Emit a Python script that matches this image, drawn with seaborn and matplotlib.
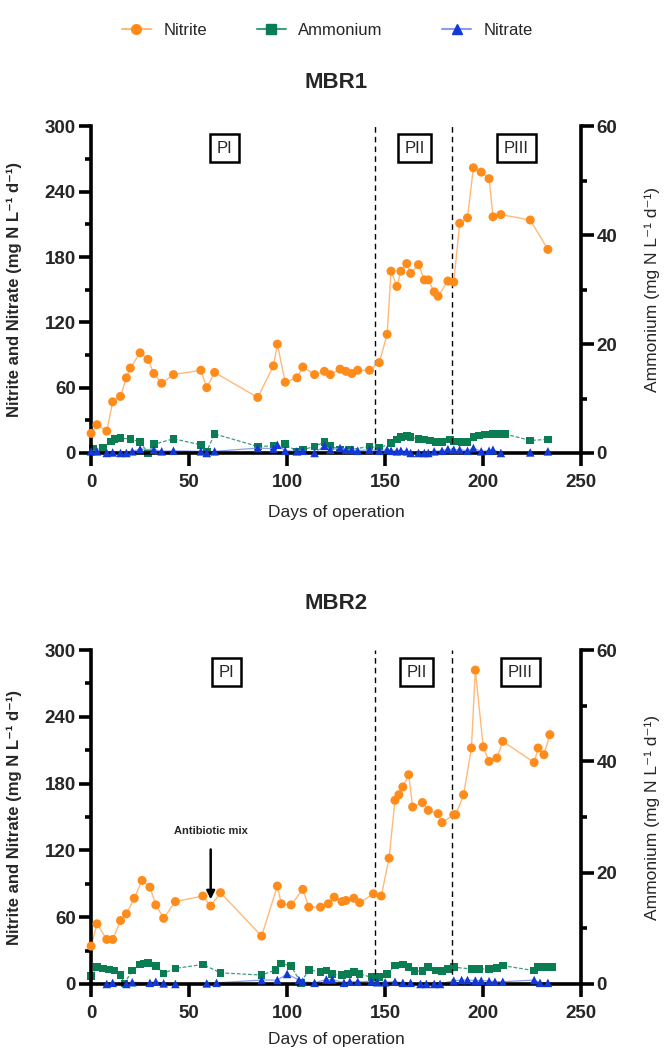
import matplotlib
matplotlib.use("Agg")
import matplotlib.pyplot as plt
from matplotlib.lines import Line2D
import seaborn as sns
import pandas as pd

# ---------------- data ----------------
mbr1_nitrite_days = [0, 3, 8, 11, 15, 18, 20, 25, 29, 32, 36, 42, 56, 59, 63, 85, 93, 95, 99, 105,
                     108, 114, 119, 122, 127, 130, 133, 136, 142, 147, 151, 153, 156, 158, 161, 163, 167, 170, 172, 175,
                     177, 182, 185, 188, 192, 195, 199, 203, 205, 209, 224, 233]
mbr1_nitrite = [18, 26, 20, 47, 52, 69, 78, 92, 86, 73, 64, 72, 76, 60, 74, 51, 80, 100, 65, 69,
                79, 72, 75, 72, 77, 75, 73, 76, 76, 83, 109, 167, 153, 167, 174, 165, 173, 159, 159, 148,
                144, 158, 157, 211, 216, 262, 258, 252, 217, 219, 214, 187]

mbr1_ammonium_days = [1, 6, 10, 12, 15, 20, 25, 29, 32, 42, 56, 59, 63, 85, 93, 99, 105, 108, 114, 119,
                      122, 127, 132, 142, 147, 153, 156, 158, 161, 163, 167, 170, 173, 176, 179, 183, 185, 189, 192, 195,
                      198, 201, 205, 208, 211, 224, 233]
mbr1_ammonium = [0.7, 0.9, 2.1, 2.6, 2.7, 2.6, 2.0, 0.0, 1.6, 2.6, 1.5, 0.3, 3.5, 1.2, 1.3, 1.6, 0.3, 0.6, 1.2, 2.0,
                 1.3, 0.6, 0.6, 1.2, 0.9, 1.8, 2.5, 2.9, 3.1, 2.9, 2.6, 2.5, 2.3, 2.0, 2.0, 2.5, 2.1, 2.0, 2.0, 2.9,
                 3.2, 3.4, 3.5, 3.5, 3.5, 2.3, 2.5]

mbr1_nitrate_days = [0, 3, 8, 11, 15, 18, 21, 25, 32, 36, 42, 56, 59, 63, 85, 93, 95, 99, 105, 108,
                     114, 119, 122, 127, 130, 133, 136, 142, 147, 151, 153, 156, 158, 161, 163, 167, 170, 172, 175, 179,
                     182, 185, 188, 192, 195, 199, 203, 205, 209, 224, 233]
mbr1_nitrate = [1.5, 1.5, 0, 0.5, 0, 0, 1.5, 3.5, 3, 1.5, 2, 1.5, 0, 1.5, 4.5, 4, 7.5, 2, 1.5, 2,
                0, 6.5, 3, 4.5, 3, 3, 2, 3, 2, 3, 2, 1.5, 2, 1.5, 0, 0, 0, 0, 1.5, 2,
                3.5, 3, 3, 2, 4.5, 1.5, 2, 3, 0, 0.5, 1.5]

mbr2_nitrite_days = [0, 3, 8, 11, 15, 18, 22, 26, 30, 33, 37, 43, 57, 61, 66, 87, 95, 97, 102, 108,
                     111, 117, 121, 124, 128, 130, 134, 137, 144, 148, 152, 155, 157, 159, 162, 164, 169, 172, 177, 179,
                     185, 186, 190, 194, 196, 200, 203, 207, 210, 226, 228, 231, 234]
mbr2_nitrite = [34, 54, 40, 40, 57, 63, 77, 93, 87, 71, 59, 74, 79, 70, 82, 43, 88, 72, 71, 85,
                69, 69, 72, 78, 74, 75, 77, 73, 81, 79, 113, 165, 170, 177, 188, 159, 163, 156, 153, 145,
                152, 152, 170, 212, 282, 213, 200, 203, 218, 199, 212, 206, 224]

mbr2_ammonium_days = [0, 3, 6, 9, 12, 15, 17, 21, 25, 27, 29, 33, 37, 43, 57, 66, 87, 94, 97, 102,
                      107, 111, 117, 120, 123, 128, 131, 134, 137, 143, 147, 151, 155, 159, 162, 165, 169, 172, 176, 179,
                      182, 185, 194, 198, 203, 207, 210, 226, 228, 231, 235]
mbr2_ammonium = [1.4, 3.1, 2.8, 2.6, 2.4, 1.6, 0.1, 2.4, 3.5, 3.7, 3.8, 3.2, 1.9, 2.8, 3.5, 2.0, 1.6, 2.5, 3.7, 3.2,
                 0.2, 2.5, 2.2, 2.4, 1.8, 1.6, 1.8, 2.1, 1.8, 1.2, 1.2, 1.8, 3.3, 3.5, 3.0, 2.3, 2.3, 3.0, 2.4, 2.3,
                 2.7, 3.0, 2.7, 2.7, 2.7, 2.9, 3.3, 2.4, 3.1, 3.1, 3.1]

mbr2_nitrate_days = [8, 11, 18, 21, 30, 33, 37, 43, 59, 64, 87, 95, 100, 106, 108, 114, 120, 123, 129, 132,
                     136, 143, 146, 150, 155, 159, 163, 168, 171, 175, 178, 185, 189, 192, 196, 199, 203, 206, 210, 226,
                     229, 233]
mbr2_nitrate = [0, 1, 0, 1.5, 1, 2, 0.5, 0, 0.5, 1, 3.5, 3.5, 9, 3.5, 2, 1, 4, 4, 1, 2,
                2, 2.5, 1.5, 1.5, 2, 1, 1, 0, 0, 0, 0, 3, 3.5, 3.5, 3, 3, 2.5, 2, 2, 3.5,
                1, 1]

panel_titles = ["MBR1", "MBR2"]
series_names = ["Nitrite", "Ammonium", "Nitrate"]
period_labels = ["PI", "PII", "PIII"]
period_label_days = [[68, 165, 217], [69, 166, 219]]
period_bounds = [145, 184]
x_ticks = [0, 50, 100, 150, 200, 250]
left_ticks = [0, 60, 120, 180, 240, 300]
right_ticks = [0, 20, 40, 60]

# ---------------- style ----------------
sns.set_theme(style="ticks")
plt.rcParams["font.family"] = ["Liberation Sans", "DejaVu Sans"]

C_NIT = "#FF8C1A"
C_NIT_L = "#FFB978"
C_AMM = "#0B7D52"
C_AMM_L = "#3E9E7E"
C_NO3 = "#1238D6"
C_NO3_L = "#8A9CF0"
SPW = 2.6

fig = plt.figure(figsize=(6.65, 10.5), dpi=100)
axes_pos = [[0.137, 0.5686, 0.737, 0.311], [0.137, 0.0629, 0.737, 0.318]]
title_y = [0.921, 0.4257]

panels = [
    (mbr1_nitrite_days, mbr1_nitrite, mbr1_ammonium_days, mbr1_ammonium, mbr1_nitrate_days, mbr1_nitrate),
    (mbr2_nitrite_days, mbr2_nitrite, mbr2_ammonium_days, mbr2_ammonium, mbr2_nitrate_days, mbr2_nitrate),
]

for i, (nd, nv, ad, av, td, tv) in enumerate(panels):
    ax = fig.add_axes(axes_pos[i])
    axr = ax.twinx()
    ax.set_zorder(axr.get_zorder() + 1)
    ax.patch.set_visible(False)

    df_n = pd.DataFrame({"day": nd, "val": nv})
    df_a = pd.DataFrame({"day": ad, "val": av})
    df_t = pd.DataFrame({"day": td, "val": tv})

    # ammonium on right axis
    sns.lineplot(data=df_a, x="day", y="val", ax=axr, color=C_AMM_L, lw=0.9,
                 linestyle=(0, (3, 1.5)), sort=False, estimator=None)
    sns.scatterplot(data=df_a, x="day", y="val", ax=axr, marker="s", s=30, color=C_AMM,
                    edgecolor="none", clip_on=False, zorder=3)

    # nitrate and nitrite on left axis
    sns.lineplot(data=df_t, x="day", y="val", ax=ax, color=C_NO3_L, lw=0.9, sort=False, estimator=None)
    sns.scatterplot(data=df_t, x="day", y="val", ax=ax, marker="^", s=38, color=C_NO3,
                    edgecolor="none", clip_on=False, zorder=4)
    sns.lineplot(data=df_n, x="day", y="val", ax=ax, color=C_NIT_L, lw=1.0, sort=False, estimator=None)
    sns.scatterplot(data=df_n, x="day", y="val", ax=ax, marker="o", s=42, color=C_NIT,
                    edgecolor="none", clip_on=False, zorder=5)

    ax.set_xlim(0, 250)
    ax.set_ylim(0, 300)
    axr.set_ylim(0, 60)
    ax.set_xticks(x_ticks)
    ax.set_yticks(left_ticks)
    ax.set_yticks([30, 90, 150, 210, 270], minor=True)
    axr.set_yticks(right_ticks)
    axr.set_yticks([10, 30, 50], minor=True)

    for a in (ax, axr):
        for s in a.spines.values():
            s.set_linewidth(SPW)
            s.set_color("black")
    ax.spines["top"].set_visible(False)
    ax.spines["right"].set_visible(False)
    axr.spines["top"].set_visible(False)
    axr.spines["left"].set_visible(False)
    axr.spines["bottom"].set_visible(False)

    ax.tick_params(axis="y", which="major", length=9, width=SPW, labelsize=13.5, pad=2, color="black")
    ax.tick_params(axis="x", which="major", length=9, width=SPW, labelsize=13.5, pad=6, color="black")
    ax.tick_params(axis="y", which="minor", length=4.5, width=SPW, color="black")
    ax.tick_params(axis="x", which="minor", bottom=False)
    axr.tick_params(axis="y", which="major", length=9, width=SPW, labelsize=13.5, pad=2, color="black")
    axr.tick_params(axis="y", which="minor", length=4.5, width=SPW, color="black")
    for lbl in ax.get_xticklabels() + ax.get_yticklabels() + axr.get_yticklabels():
        lbl.set_fontweight("bold")

    ax.set_xlabel("Days of operation", fontsize=12.5, labelpad=10 if i == 0 else 7)
    ax.set_ylabel("Nitrite and Nitrate (mg N L⁻¹ d⁻¹)", fontsize=12, fontweight="bold")
    ax.yaxis.set_label_coords(-0.14, 0.5)
    axr.set_ylabel("Ammonium (mg N L⁻¹ d⁻¹)", fontsize=12.5, rotation=90)
    axr.yaxis.set_label_coords(1.13, 0.5)

    for b in period_bounds:
        ax.axvline(b, color="black", lw=1.0, ls=(0, (4, 3)), zorder=1)
    for lab, d in zip(period_labels, period_label_days[i]):
        ax.text(d, 280, lab, ha="center", va="center", fontsize=12,
                bbox=dict(boxstyle="square,pad=0.4", fc="white", ec="black", lw=1.8))

    fig.text(0.505, title_y[i], panel_titles[i], ha="center", va="center",
             fontsize=16, fontweight="bold")

    if i == 1:
        ax.annotate("Antibiotic mix", xy=(61, 76), xytext=(61, 137), ha="center", va="center",
                    fontsize=8, fontweight="bold",
                    arrowprops=dict(arrowstyle="-|>", color="black", lw=1.8, shrinkA=7, shrinkB=0,
                                    mutation_scale=12))

    if ax.legend_:
        ax.legend_.remove()
    if axr.legend_:
        axr.legend_.remove()

handles = [
    Line2D([], [], color=C_NIT_L, lw=1.5, marker="o", markersize=7, markerfacecolor=C_NIT, markeredgecolor=C_NIT),
    Line2D([], [], color=C_AMM_L, lw=1.5, marker="s", markersize=6.5, markerfacecolor=C_AMM, markeredgecolor=C_AMM),
    Line2D([], [], color=C_NO3_L, lw=1.5, marker="^", markersize=7, markerfacecolor=C_NO3, markeredgecolor=C_NO3),
]
legend_x = [0.183, 0.386, 0.665]
for h, name, lx in zip(handles, series_names, legend_x):
    fig.legend([h], [name], loc="center left", bbox_to_anchor=(lx, 0.971), frameon=False,
               borderpad=0, borderaxespad=0, handlelength=1.75, handletextpad=0.75, fontsize=12)

fig.savefig("out.png", dpi=100)
